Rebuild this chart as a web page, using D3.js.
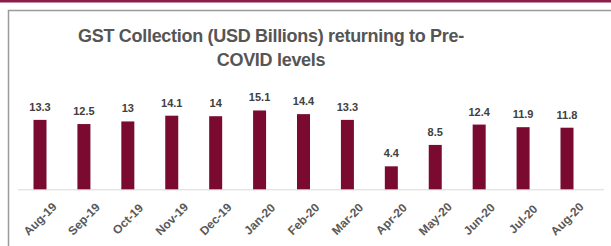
<!DOCTYPE html>
<html><head><meta charset="utf-8">
<script src="https://cdn.jsdelivr.net/npm/d3@7"></script>
<style>html,body{margin:0;padding:0;background:#fff;overflow:hidden}</style>
</head><body>
<svg id="c" width="611" height="246"></svg>
<script>
const months = ["Aug-19","Sep-19","Oct-19","Nov-19","Dec-19","Jan-20","Feb-20","Mar-20","Apr-20","May-20","Jun-20","Jul-20","Aug-20"];
const gst = [13.3,12.5,13,14.1,14,15.1,14.4,13.3,4.4,8.5,12.4,11.9,11.8];
const titleLines = ["GST Collection (USD Billions) returning to Pre-","COVID levels"];

const svg = d3.select("#c");
const font = "Arial, 'Liberation Sans', sans-serif";

svg.append("rect").attr("x",0).attr("y",0).attr("width",611).attr("height",2.5).attr("fill","#8c1d4a");
svg.append("path").attr("d","M8.5,246 V10.5 H611").attr("fill","none").attr("stroke","#9a9a9a").attr("stroke-width",1.5);

const x = d3.scalePoint().domain(months).range([40,567]);
const y = d3.scaleLinear().domain([0,16]).range([189.3,189.3-16*5.22]);
const bw = 13;

svg.append("line").attr("x1",18).attr("x2",604).attr("y1",y(0)+0.5).attr("y2",y(0)+0.5)
  .attr("stroke","#d9d9d9").attr("stroke-width",1);

svg.selectAll("rect.bar").data(gst).join("rect").attr("class","bar")
  .attr("x",(d,i)=>x(months[i])-bw/2).attr("width",bw)
  .attr("y",d=>y(d)).attr("height",d=>y(0)-y(d))
  .attr("fill","#7a0a30");

svg.selectAll("text.val").data(gst).join("text").attr("class","val")
  .attr("x",(d,i)=>x(months[i])).attr("y",d=>y(d)-9)
  .attr("text-anchor","middle").attr("font-family",font).attr("font-weight","bold")
  .attr("font-size",11).attr("fill","#404040").text(d=>d);

svg.selectAll("text.xl").data(months).join("text").attr("class","xl")
  .attr("transform",d=>`translate(${x(d)},219) rotate(-45)`)
  .attr("text-anchor","middle").attr("dy","0.35em")
  .attr("font-family",font).attr("font-weight","bold")
  .attr("font-size",12).attr("fill","#595959").text(d=>d);

svg.selectAll("text.title").data(titleLines).join("text").attr("class","title")
  .attr("x",271).attr("y",(d,i)=>41.5+i*24)
  .attr("text-anchor","middle").attr("font-family",font).attr("font-weight","bold")
  .attr("letter-spacing",-0.3)
  .attr("font-size",18).attr("fill","#555555").text(d=>d);
</script>
</body></html>
